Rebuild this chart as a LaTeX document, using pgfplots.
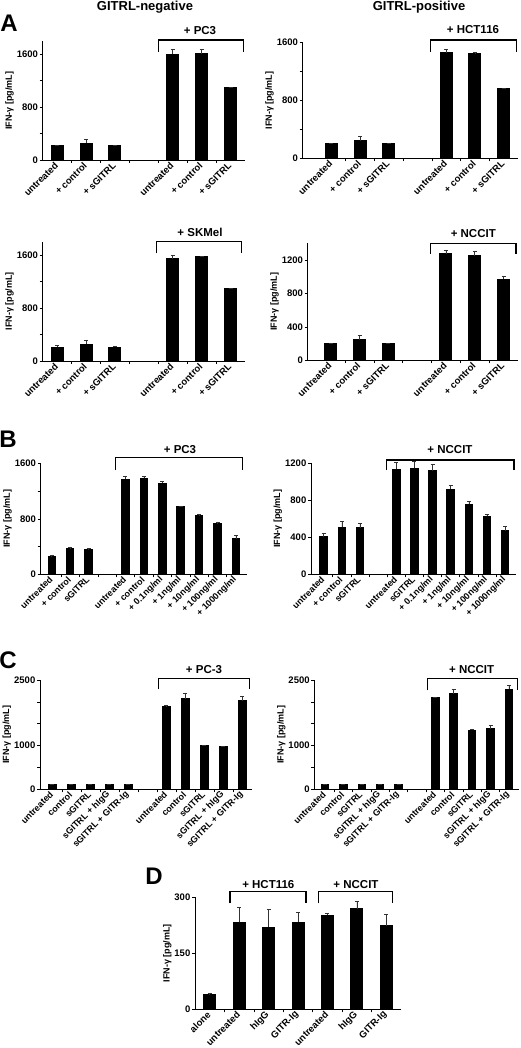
\documentclass[border=0pt]{standalone}
\usepackage{pgfplots}
\pgfplotsset{compat=1.18}
\usepackage{fontspec}
\setmainfont{Liberation Sans}

\pgfplotsset{
 panel/.style={
  scale only axis, clip=false,
  axis lines*=left,
  axis line style={black, line width=0.8pt},
  ymin=0, enlarge x limits=false,
  tick align=outside, major tick length=3pt, minor tick length=3pt,
  tick style={black, line width=0.6pt},
  every major x tick/.append style={draw=none},
  ybar, bar width=12pt,
  scaled y ticks=false,
  /pgf/number format/1000 sep={},
  /pgf/number format/assume math mode=true,
  yticklabel style={font=\bfseries\fontsize{9.5}{10}\selectfont, inner sep=1.5pt},
  xticklabel style={font=\bfseries\fontsize{9.5}{10}\selectfont, rotate=45, anchor=east, inner sep=1pt},
  ylabel={IFN-γ [pg/mL]},
  ylabel style={font=\bfseries\fontsize{9}{10}\selectfont, yshift=-2pt},
 },
 bars/.style={fill=black, draw=black, line width=0pt,
  error bars/.cd, y dir=plus, y explicit,
  error bar style={black!80, line width=0.6pt},
  error mark options={rotate=90, mark size=2pt, black!80, line width=0.6pt}},
 small/.style={bar width=7.5pt, xticklabel style={font=\bfseries\fontsize{9}{9}\selectfont}},
}
\newcommand{\brk}[4]{\draw[line width=1.5pt] (#1pt,-#4pt) -- (#1pt,-#3pt) -- (#2pt,-#3pt) -- (#2pt,-#4pt);}
\newcommand{\blab}[3]{\node[font=\bfseries\fontsize{11.5}{12}\selectfont] at (#1pt,-#2pt) {#3};}

\begin{document}
\begin{tikzpicture}
\path[use as bounding box] (0,0) rectangle (520pt,-1048pt);

% ---------------- A ----------------
\node[font=\bfseries\fontsize{13}{14}\selectfont] at (145pt,-7pt) {GITRL-negative};
\node[font=\bfseries\fontsize{13}{14}\selectfont] at (419pt,-7pt) {GITRL-positive};
\node[font=\bfseries\fontsize{24}{24}\selectfont] at (9pt,-23.5pt) {A};

\begin{axis}[panel, at={(42.7pt,-160pt)}, anchor=south west, width=202.3pt, height=118.9pt,
  xmin=0.5, xmax=7.5, ymax=1800, ytick={0,800,1600}, minor ytick={400,1200},
  xtick={1,2,3,5,6,7}, xticklabels={untreated,+ control,+ sGITRL,untreated,+ control,+ sGITRL},
  minor xtick={1.5,2.5,3.5,4.5,5.5,6.5}]
\addplot[bars] coordinates {(1,215) +- (0,0) (2,250) +- (0,60) (3,215) +- (0,0) (5,1600) +- (0,75) (6,1605) +- (0,70) (7,1100) +- (0,0)};
\end{axis}
\brk{158.3}{243.3}{40}{51.7}
\blab{200}{31}{+ PC3}

\begin{axis}[panel, at={(302.7pt,-158.3pt)}, anchor=south west, width=215.3pt, height=115.6pt,
  xmin=0, xmax=7.5, ymax=1600, ytick={0,800,1600}, minor ytick={400,1200},
  xtick={1,2,3,5,6,7}, xticklabels={untreated,+ control,+ sGITRL,untreated,+ control,+ sGITRL},
  minor xtick={1.5,2.5,3.5,4.5,5.5,6.5}]
\addplot[bars] coordinates {(1,208) +- (0,0) (2,244) +- (0,55) (3,208) +- (0,0) (5,1462) +- (0,45) (6,1444) +- (0,30) (7,969) +- (0,0)};
\end{axis}
\brk{430.7}{516.7}{40}{51.7}
\blab{473}{30}{+ HCT116}

\begin{axis}[panel, at={(42.7pt,-361pt)}, anchor=south west, width=202.3pt, height=119.3pt,
  xmin=0.5, xmax=7.5, ymax=1800, ytick={0,800,1600}, minor ytick={400,1200},
  xtick={1,2,3,5,6,7}, xticklabels={untreated,+ control,+ sGITRL,untreated,+ control,+ sGITRL},
  minor xtick={1.5,2.5,3.5,4.5,5.5,6.5}]
\addplot[bars] coordinates {(1,211) +- (0,20) (2,252) +- (0,60) (3,211) +- (0,15) (5,1545) +- (0,50) (6,1570) +- (0,10) (7,1092) +- (0,5)};
\end{axis}
\brk{156.7}{241.7}{241.7}{253.3}
\blab{200}{232.3}{+ SKMel}

\begin{axis}[panel, at={(307.7pt,-360.3pt)}, anchor=south west, width=210.3pt, height=117pt,
  xmin=0.2, xmax=7.5, ymax=1400, ytick={0,400,800,1200},
  xtick={1,2,3,5,6,7}, xticklabels={untreated,+ control,+ sGITRL,untreated,+ control,+ sGITRL},
  minor xtick={1.5,2.5,3.5,4.5,5.5,6.5}]
\addplot[bars] coordinates {(1,203) +- (0,5) (2,247) +- (0,56) (3,199) +- (0,5) (5,1272) +- (0,50) (6,1250) +- (0,50) (7,969) +- (0,40)};
\end{axis}
\brk{430.7}{516}{243.3}{254}
\blab{473.3}{233.5}{+ NCCIT}

% ---------------- B ----------------
\node[font=\bfseries\fontsize{24}{24}\selectfont] at (8pt,-439.5pt) {B};

\begin{axis}[panel, small, at={(40.7pt,-574.3pt)}, anchor=south west, width=206.3pt, height=111pt,
  xmin=0.4, xmax=11.6, ymax=1600, ytick={0,800,1600}, minor ytick={400,1200},
  xtick={1,2,3,5,6,7,8,9,10,11},
  xticklabels={untreated,+ control,sGITRL,untreated,+ control,+ 0.1ng/ml,+ 1ng/ml,+ 10ng/ml,+ 100ng/ml,+ 1000ng/ml},
  minor xtick={1.5,2.5,3.5,4.5,5.5,6.5,7.5,8.5,9.5,10.5}]
\addplot[bars] coordinates {(1,250) +- (0,24) (2,370) +- (0,14) (3,360) +- (0,10) (5,1369) +- (0,48) (6,1384) +- (0,24) (7,1316) +- (0,24) (8,971) +- (0,14) (9,850) +- (0,10) (10,730) +- (0,15) (11,514) +- (0,43)};
\end{axis}
\brk{115.7}{242.3}{457.3}{470}
\blab{180}{450}{+ PC3}

\begin{axis}[panel, small, at={(311pt,-574.3pt)}, anchor=south west, width=205pt, height=111pt,
  xmin=0.3, xmax=11.6, ymax=1200, ytick={0,400,800,1200},
  xtick={1,2,3,5,6,7,8,9,10,11},
  xticklabels={untreated,+ control,sGITRL,untreated,sGITRL,+ 0.1ng/ml,+ 1ng/ml,+ 10ng/ml,+ 100ng/ml,+ 1000ng/ml},
  minor xtick={1.5,2.5,3.5,4.5,5.5,6.5,7.5,8.5,9.5,10.5}]
\addplot[bars] coordinates {(1,404) +- (0,39) (2,508) +- (0,69) (3,501) +- (0,54) (5,1135) +- (0,72) (6,1146) +- (0,79) (7,1121) +- (0,68) (8,919) +- (0,43) (9,760) +- (0,33) (10,627) +- (0,18) (11,472) +- (0,43)};
\end{axis}
\brk{386.7}{514}{460}{470}
\blab{450}{449.3}{+ NCCIT}

% ---------------- C ----------------
\node[font=\bfseries\fontsize{24}{24}\selectfont] at (8pt,-660pt) {C};

\begin{axis}[panel, small, at={(40pt,-789.3pt)}, anchor=south west, width=212pt, height=109.3pt,
  xmin=0.35, xmax=11.5, ymax=2500, ytick={0,1000,2500}, minor ytick={500,1500,2000},
  xtick={1,2,3,4,5,7,8,9,10,11},
  xticklabels={untreated,control,sGITRL,sGITRL + hIgG,sGITRL + GITR-Ig,untreated,control,sGITRL,sGITRL + hIgG,sGITRL + GITR-Ig},
  minor xtick={1.5,2.5,3.5,4.5,5.5,6.5,7.5,8.5,9.5,10.5}]
\addplot[bars] coordinates {(1,115) +- (0,5) (2,108) +- (0,5) (3,108) +- (0,5) (4,115) +- (0,5) (5,108) +- (0,5) (7,1905) +- (0,10) (8,2073) +- (0,130) (9,1006) +- (0,10) (10,975) +- (0,15) (11,2027) +- (0,100)};
\end{axis}
\brk{158.3}{249.3}{678.3}{689.3}
\blab{204}{670}{+ PC-3}

\begin{axis}[panel, small, at={(314.3pt,-789.3pt)}, anchor=south west, width=204.7pt, height=109.3pt,
  xmin=0.42, xmax=11.55, ymax=2500, ytick={0,1000,2500}, minor ytick={500,1500,2000},
  xtick={1,2,3,4,5,7,8,9,10,11},
  xticklabels={untreated,control,sGITRL,sGITRL + hIgG,sGITRL + GITR-Ig,untreated,control,sGITRL,sGITRL + hIgG,sGITRL + GITR-Ig},
  minor xtick={1.5,2.5,3.5,4.5,5.5,6.5,7.5,8.5,9.5,10.5}]
\addplot[bars] coordinates {(1,115) +- (0,5) (2,108) +- (0,5) (3,115) +- (0,5) (4,115) +- (0,5) (5,115) +- (0,5) (7,2104) +- (0,0) (8,2187) +- (0,100) (9,1349) +- (0,20) (10,1380) +- (0,90) (11,2287) +- (0,100)};
\end{axis}
\brk{427.7}{517.7}{678.7}{690}
\blab{471.7}{669.3}{+ NCCIT}

% ---------------- D ----------------
\node[font=\bfseries\fontsize{24}{24}\selectfont] at (154pt,-876.7pt) {D};

\begin{axis}[panel, at={(195pt,-1009.3pt)}, anchor=south west, width=206pt, height=112pt,
  xmin=0.5, xmax=7.5, ymax=300, ytick={0,150,300},
  xtick={1,2,3,4,5,6,7},
  xticklabels={alone,untreated,hIgG,GITR-Ig,untreated,hIgG,GITR-Ig},
  minor xtick={1.5,2.5,3.5,4.5,5.5,6.5}]
\addplot[bars] coordinates {(1,39) +- (0,3) (2,233) +- (0,40) (3,220) +- (0,48) (4,233) +- (0,27) (5,252) +- (0,4) (6,270) +- (0,20) (7,224) +- (0,30)};
\end{axis}
\brk{230}{306}{891.7}{903.3}
\blab{268.3}{885}{+ HCT116}
\brk{318.3}{392.7}{891.7}{903.3}
\blab{356}{885}{+ NCCIT}

\end{tikzpicture}
\end{document}
